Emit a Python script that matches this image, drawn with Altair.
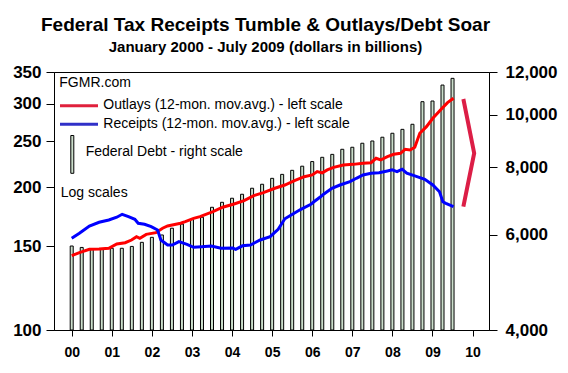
import json
import altair as alt
import pandas as pd

title_text = "Federal Tax Receipts Tumble & Outlays/Debt Soar"
subtitle_text = "January 2000 - July 2009 (dollars in billions)"

# Outlays, 12-month moving average (billions), month index from Jan 2000
outlay_month = [0, 2.3, 5.3, 8.2, 11.1, 13.5, 16.0, 17.9, 19.4, 20.4, 22.3, 25.2, 27.2, 28.7, 30.1,
                32.6, 34.0, 36.5, 38.4, 42.3, 45.2, 48.6, 51.6, 54.5, 57.4, 60.8, 63.8, 66.7, 69.6, 72.0,
                73.5, 75.0, 76.5, 78.4, 81.3, 84.2, 87.2, 89.6, 91.1, 92.5, 94.5, 96.4, 98.4, 99.8, 101.3,
                102.7, 104.2, 106.2, 108.1, 110.6, 112.5, 114.3]
outlay_value = [143.5, 145.6, 148.0, 148.2, 148.7, 151.8, 152.8, 154.8, 157.3, 156.1, 159.1, 160.4, 163.9, 165.7, 166.5,
                167.9, 169.2, 172.0, 173.4, 177.6, 181.5, 184.4, 187.4, 192.0, 194.8, 199.0, 202.2, 206.5, 210.5, 212.3,
                215.8, 214.5, 217.6, 220.3, 222.8, 223.5, 224.6, 225.3, 230.2, 228.3, 232.0, 234.7, 235.8, 240.4, 239.6,
                242.8, 259.9, 268.4, 279.6, 292.1, 301.6, 308.1]

# Receipts, 12-month moving average (billions)
receipt_month = [0, 2.3, 5.3, 8.2, 11.1, 13.5, 15.1, 17.0, 18.9, 19.9, 21.8, 23.8, 25.7, 26.7, 28.7,
                 30.1, 32.1, 34.5, 36.5, 38.9, 41.8, 44.7, 48.2, 49.1, 51.1, 53.5, 56.4, 59.4, 61.8, 63.8,
                 65.7, 68.6, 71.6, 72.5, 74.5, 75.5, 77.9, 80.3, 83.3, 85.2, 87.2, 89.6, 92.0, 94.5, 95.9,
                 97.4, 98.9, 100.3, 102.7, 105.7, 108.1, 110.1, 111.1, 112.0, 114.3]
receipt_value = [156.1, 159.9, 165.7, 168.7, 170.6, 172.9, 175.4, 173.4, 171.2, 167.9, 167.1, 165.2, 162.5, 154.8, 151.1,
                 151.1, 153.6, 151.6, 149.4, 149.9, 150.3, 148.7, 148.9, 148.0, 150.5, 151.1, 154.8, 157.3, 163.1, 171.6,
                 174.8, 179.7, 184.1, 186.4, 191.0, 193.6, 199.0, 202.2, 205.5, 208.9, 212.3, 214.1, 214.7, 216.5, 217.6,
                 215.8, 218.3, 214.1, 211.3, 207.8, 202.2, 195.7, 186.4, 185.0, 182.0]

# Federal debt (billions), quarterly from Jan 2000
debt_quarter = list(range(39))
debt_value = [5720, 5685, 5650, 5650, 5665, 5665, 5710, 5810, 5935, 5995, 6170, 6280, 6410, 6465, 6745,
              6890, 7010, 7130, 7315, 7440, 7630, 7760, 7895, 8035, 8195, 8345, 8450, 8635, 8710, 8860,
              8945, 9090, 9245, 9400, 9605, 10575, 10605, 11350, 11680]

year_labels = ["00", "01", "02", "03", "04", "05", "06", "07", "08", "09", "10"]
left_ticks = [100, 150, 200, 250, 300, 350]
right_ticks = [4000, 6000, 8000, 10000, 12000]

# red chevron annotation (year, left-scale value)
arrow_year = [2009.77, 2010.04, 2009.77]
arrow_value = [307, 236, 182]

FONT = "Liberation Sans"

lines_df = pd.DataFrame({
    "t": [2000 + m / 12 for m in outlay_month] + [2000 + m / 12 for m in receipt_month],
    "v": outlay_value + receipt_value,
    "series": ["Outlays"] * len(outlay_month) + ["Receipts"] * len(receipt_month),
})
debt_df = pd.DataFrame({"t": [2000 + q / 4 for q in debt_quarter], "debt": debt_value})
arrow_df = pd.DataFrame({"t": arrow_year, "v": arrow_value, "o": [0, 1, 2]})
one = pd.DataFrame({"a": [0]})

xscale = alt.Scale(domain=[1999.683, 2010.285], nice=False, zero=False)
label_expr = f"datum.value % 1 == 0 ? {json.dumps(year_labels)}[datum.value - 2000] : ''"
xaxis = alt.Axis(values=[2000 + q / 4 for q in range(41)], labelExpr=label_expr, title=None,
                 labelFont=FONT, labelFontSize=14, labelFontWeight="bold", labelColor="black",
                 tickSize=6, tickColor="black", domainColor="black", labelPadding=9,
                 labelOverlap=False, labelFlush=False, grid=False)

left_axis = alt.Axis(orient="left", values=left_ticks, format="d", title=None,
                     labelFont=FONT, labelFontSize=17, labelFontWeight="bold", labelColor="black",
                     tickSize=8, tickColor="black", domainColor="black", labelPadding=5,
                     grid=False, labelOverlap=False)
right_axis = alt.Axis(orient="right", values=right_ticks, format=",d", title=None,
                      labelFont=FONT, labelFontSize=17, labelFontWeight="bold", labelColor="black",
                      tickSize=8, tickColor="black", domainColor="black", labelPadding=8,
                      grid=False, labelOverlap=False)

bars = alt.Chart(debt_df).mark_bar(size=3, fill="#CCDFCC", stroke="black", strokeWidth=1).encode(
    x=alt.X("t:Q", scale=xscale, axis=xaxis),
    y=alt.Y("debt:Q", scale=alt.Scale(type="log", domain=[4000, 12000], nice=False), axis=right_axis),
    y2=alt.datum(4000),
)

yleft = alt.Scale(type="log", domain=[100, 350], nice=False)
lines = alt.Chart(lines_df).mark_line(strokeWidth=3).encode(
    x=alt.X("t:Q", scale=xscale, axis=xaxis),
    y=alt.Y("v:Q", scale=yleft, axis=left_axis),
    color=alt.Color("series:N", scale=alt.Scale(domain=["Outlays", "Receipts"], range=["#FF0000", "#0000FF"]),
                    legend=None),
)
arrow = alt.Chart(arrow_df).mark_line(color="#DC1E46", strokeWidth=4).encode(
    x=alt.X("t:Q", scale=xscale),
    y=alt.Y("v:Q", scale=yleft),
    order="o:Q",
)

def txt(s, x, y):
    return alt.Chart(one).mark_text(align="left", baseline="middle", font=FONT, fontSize=14,
                                    color="black").encode(x=alt.value(x), y=alt.value(y), text=alt.value(s))

leg_red = alt.Chart(one).mark_rule(color="#E0203C", strokeWidth=3).encode(
    x=alt.value(6), x2=alt.value(44), y=alt.value(33.7))
leg_blue = alt.Chart(one).mark_rule(color="#3030C8", strokeWidth=3).encode(
    x=alt.value(6), x2=alt.value(44), y=alt.value(52.3))
leg_bar = alt.Chart(one).mark_rect(fill="#CCDFCC", stroke="black", strokeWidth=1).encode(
    x=alt.value(16.8), x2=alt.value(19.8), y=alt.value(63.5), y2=alt.value(101.3))

left_layer = alt.layer(
    lines, arrow, leg_red, leg_blue, leg_bar,
    txt("FGMR.com", 5.3, 11.3),
    txt("Outlays (12-mon. mov.avg.) - left scale", 49.3, 33.2),
    txt("Receipts (12-mon. mov.avg.) - left scale", 49.3, 51.8),
    txt("Federal Debt - right scale", 31.7, 79.7),
    txt("Log scales", 6.7, 121.3),
)

chart = alt.layer(bars, left_layer).resolve_scale(y="independent").properties(
    width=435, height=258,
    padding={"left": 46, "top": 64, "right": 70, "bottom": 35},
    autosize=alt.AutoSizeParams(type="none"),
    background="white",
    title=alt.TitleParams(text=title_text, subtitle=subtitle_text, font=FONT, fontSize=19, fontWeight="bold",
                          color="black", subtitleFont=FONT, subtitleFontSize=15, subtitleFontWeight="bold",
                          subtitleColor="black", anchor="middle", frame="group", offset=8,
                          subtitlePadding=5, dx=-6),
).configure_view(stroke="black", strokeWidth=1)

chart.save("out.html", embed_options={"renderer": "svg", "actions": False})
